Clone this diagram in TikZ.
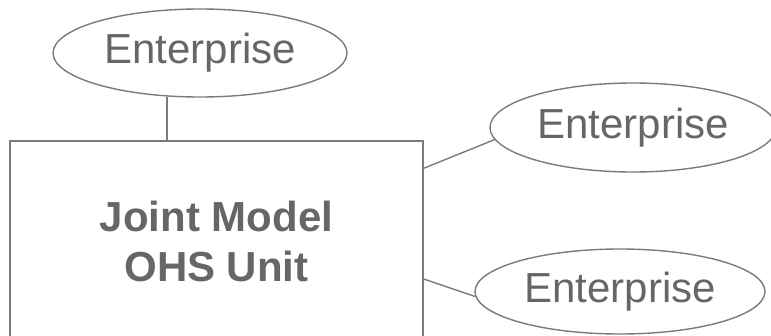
\documentclass[tikz,border=0pt]{standalone}
\usepackage{fontspec}
\setmainfont{Liberation Sans}
\usetikzlibrary{shapes.geometric}
\definecolor{linegray}{HTML}{7A7A7A}
\definecolor{textgray}{HTML}{666666}
\begin{document}
\begin{tikzpicture}[x=1pt,y=-1pt,line width=1.4pt,
    firm/.style={draw=linegray,ellipse,inner sep=0pt,text=textgray,font=\fontsize{42}{48}\selectfont},
    unit/.style={draw=linegray,minimum width=413pt,minimum height=200pt,align=center,text=textgray,font=\fontsize{42}{50}\selectfont\bfseries}]
                \useasboundingbox (0,0) rectangle (771,335);
                \node[unit] (U) at (216.5,241) {Joint Model\\OHS Unit};
                \node[firm,minimum width=294pt,minimum height=88pt] (E1) at (200,53) {Enterprise};
                \node[firm,minimum width=286pt,minimum height=89pt] (E2) at (633,127.5) {Enterprise};
                \node[firm,minimum width=290pt,minimum height=85pt] (E3) at (620,291.5) {Enterprise};
                \draw[linegray] (E1.233) -- (E1.233 |- U.north);
                \draw[linegray] ([yshift=-28pt]U.north east) -- (E2.185);
                \draw[linegray] ([yshift=-38pt]U.east) -- (E3.182);
            \end{tikzpicture}
\end{document}
